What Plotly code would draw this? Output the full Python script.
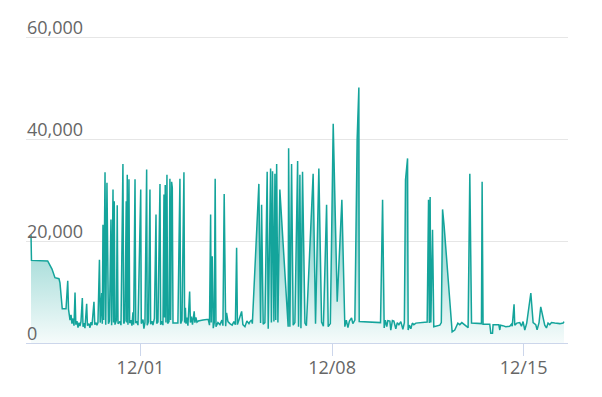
import pandas as pd
import plotly.graph_objects as go

start_time = "2023-11-27 00:00"

# hours since start_time
hours = [
    0, 0.4, 14.6, 18.4, 21.0, 24.5, 25.4, 27.4, 30.7, 32.2, 32.9, 34.2, 35.1, 35.9, 36.8, 37.7,
    38.6, 39.3, 40.3, 41.2, 42.1, 42.9, 43.8, 45.0, 45.6, 46.5, 47.3, 48.8, 49.5, 50.8, 51.7,
    52.6, 53.5, 55.2, 55.9, 57.0, 57.8,
    58.7, 60.0, 60.7, 62.0, 62.5, 63.1, 63.7, 64.9, 65.5, 66.6, 67.3, 67.9, 68.8, 70.1, 70.7,
    71.9, 72.4, 73.0, 73.6, 74.9, 75.6, 76.3, 78.0, 78.9, 80.6, 81.3, 82.4, 83.5, 84.0, 84.4,
    85.0, 85.9, 86.5, 87.7, 88.5, 89.4, 90.0, 91.2, 91.8, 92.9, 93.8, 96.2, 96.7, 98.2, 99.0,
    99.9, 101.4, 101.9, 103.0, 104.3, 104.9, 106.1, 106.9, 108.2, 109.6, 110.2, 111.3, 113.1,
    113.7, 114.8, 115.7, 116.6, 117.1, 117.7, 118.3, 119.2, 119.8, 121.0, 121.8, 122.4, 123.3,
    123.9, 124.5, 128.8, 130.6, 131.2, 132.4, 134.1, 134.7,
    135.4, 135.9, 136.7, 137.6, 139.1, 139.8, 140.7, 141.6, 143.1, 143.7, 144.6, 145.5, 146.6,
    150.8, 155.4, 156.5, 157.5, 158.0, 158.9, 159.8, 160.7, 161.5, 162.2, 163.9, 165.7, 167.4,
    168.3, 169.4, 170.7, 171.5, 172.7, 174.4, 176.4, 177.9, 179.2, 180.3, 181.0, 182.3, 184.7,
    185.8, 187.6, 189.3, 191.1, 192.0, 193.4, 194.1,
    199.8, 201.3, 202.2, 203.6, 205.1, 207.1, 208.0, 210.1, 210.8, 211.8, 213.0, 213.9, 214.6,
    215.4, 216.5, 218.2, 225.5, 225.9, 227.0, 228.5, 229.9, 231.4, 233.8, 234.6, 235.8, 236.7,
    238.1, 240.2, 241.5, 247.4, 249.5, 252.4, 254.8, 256.4, 259.2, 260.6, 262.5, 265.0, 268.5,
    272.6, 275.2,
    276.5, 277.9, 279.2, 281.1, 282.2, 284.0, 286.0, 287.5, 287.8, 297.1, 306.5, 308.3, 309.7,
    310.7, 312.0, 312.9, 314.7, 315.5, 316.9, 318.2, 319.9, 321.2, 322.6, 324.3, 326.1, 327.4,
    328.4, 330.2, 330.7, 331.8, 333.1, 334.4, 335.7, 337.5, 341.0, 347.4, 348.6, 349.3, 350.0,
    350.6, 352.1, 353.2, 358.5, 359.8, 360.9, 362.3, 369.3, 371.6, 374.3,
    376.0, 377.8, 379.5, 381.3, 383.3, 384.8, 386.3, 395.0, 395.6, 396.4, 402.3, 403.2, 404.7,
    405.2, 410.2, 411.1, 411.7, 413.7, 416.3, 419.8, 421.3, 422.0, 423.6, 424.2, 426.0, 428.6,
    430.1, 431.5, 433.0, 434.7, 438.3, 440.3, 442.6, 443.8, 445.5, 447.0, 448.5, 450.5, 452.0,
    453.4, 454.9, 456.4, 459.3, 463.7, 466.6, 467.4,
]

values = [
    21200, 16200, 16100, 14500, 12800, 12600, 11800, 6700, 6700, 12200, 6600, 4500, 5500, 3800, 4800, 3400,
    9900, 3600, 4300, 3000, 4000, 3300, 4200, 8800, 3200, 3900, 2900, 7700, 3400, 3800, 3000,
    4100, 3500, 8100, 3600, 3900, 3500,
    4000, 16300, 4000, 9800, 3800, 23200, 4500, 33500, 3600, 31400, 5000, 3800, 4300, 24200, 3500,
    30100, 4000, 27800, 3600, 4500, 27000, 3800, 4200, 3500, 35100, 3800, 4400, 27800, 4000, 33000,
    3600, 32100, 3900, 4500, 3400, 6000, 3600, 32100, 3900, 4300, 3500, 30100, 3800, 4600, 2800,
    4000, 34000, 3500, 4200, 30100, 3700, 4300, 3500, 4800, 25200, 3800, 4100, 31200,
    3600, 4300, 3500, 29100, 5000, 31000, 4000, 33000, 3800, 4200, 32200, 4500, 31600,
    30500, 3900, 3900, 32200, 3800, 4500, 33500, 4000,
    6900, 3800, 5000, 3400, 10100, 4000, 5200, 3600, 6200, 4000, 5000, 4100, 4300,
    4500, 4650, 3500, 25200, 4000, 17000, 2900, 4000, 32200, 3200, 4000, 3600, 4500,
    3400, 29200, 3300, 5900, 4200, 3800, 3500, 4200, 3600, 18700, 3600, 4500, 6200,
    3600, 3200, 4300, 3800, 4200, 4500, 3800,
    31200, 3900, 27100, 3700, 4000, 33600, 2800, 34200, 4000, 33700, 4200, 33200, 4500,
    35100, 4000, 30100, 3200, 38200, 3200, 35100, 3500, 4000, 35700, 3200, 33000, 2900,
    33600, 3900, 3400, 33200, 3800, 34200, 4100, 3300, 27100, 3200, 3800, 43000, 8100,
    28100, 3200,
    4500, 3000, 4300, 4900, 3800, 4500, 40000, 50100, 4200, 4100, 4000, 28100, 2950,
    4500, 3200, 4400, 4300, 2500, 4400, 4300, 2800, 4000, 3600, 4200, 2700, 4000,
    32000, 36200, 2550, 3500, 2800, 3900, 3600, 3900, 4000, 4100, 28100, 3900, 28650,
    4000, 22200, 3200, 3500, 4000, 26200, 22900, 2200, 2550, 3900,
    3600, 4000, 3700, 3400, 3000, 33200, 3900, 3800, 31600, 3700, 3700, 1900, 1900,
    3600, 3600, 2550, 3500, 3400, 3200, 3300, 3700, 3300, 7600, 3500, 3900, 4000,
    3300, 4200, 2550, 3900, 9800, 4000, 3600, 2600, 4000, 7100, 5200, 3500, 2950,
    3900, 3600, 4000, 3900, 3800, 3900, 4200,
]

x_tick_dates = ["2023-12-01", "2023-12-08", "2023-12-15"]
x_tick_labels = ["12/01", "12/08", "12/15"]
y_tick_values = [0, 20000, 40000, 60000]
x_range = ["2023-11-26 19:36", "2023-12-16 14:54"]
y_range = [0, 60200]

times = pd.Timestamp(start_time) + pd.to_timedelta(hours, unit="h")

line_color = "rgb(20,164,155)"

fig = go.Figure()
fig.add_trace(go.Scatter(
    x=times, y=values, mode="lines",
    line=dict(color=line_color, width=1.5),
    fill="tozeroy",
    fillgradient=dict(
        type="vertical",
        start=0, stop=50000,
        colorscale=[[0, "rgba(20,164,155,0.04)"], [1, "rgba(20,164,155,1.0)"]],
    ),
    hoverinfo="skip",
))

fig.update_layout(
    width=602, height=397,
    margin=dict(l=26, r=34, t=36, b=54),
    paper_bgcolor="white", plot_bgcolor="white",
    showlegend=False,
    font=dict(family="Open Sans", size=18, color="#666666"),
)
fig.update_xaxes(
    type="date", range=x_range,
    tickvals=x_tick_dates, ticktext=x_tick_labels,
    showgrid=False, zeroline=False,
    showline=True, linecolor="#ccd6eb", linewidth=1,
    ticks="outside", ticklen=12, tickcolor="#ccd6eb", tickwidth=1,
    ticklabelstandoff=-4,
    tickfont=dict(size=18, color="#666666"),
)
fig.update_yaxes(
    range=y_range, tickvals=y_tick_values, tickformat=",",
    showgrid=True, gridcolor="#e6e6e6", gridwidth=1,
    zeroline=False, showline=False, ticks="",
    ticklabelposition="inside top", ticklabeloverflow="allow",
    ticklabelshift=3, ticklabelstandoff=-2,
    tickfont=dict(size=18, color="#666666"),
)

fig.write_html("out.html")
